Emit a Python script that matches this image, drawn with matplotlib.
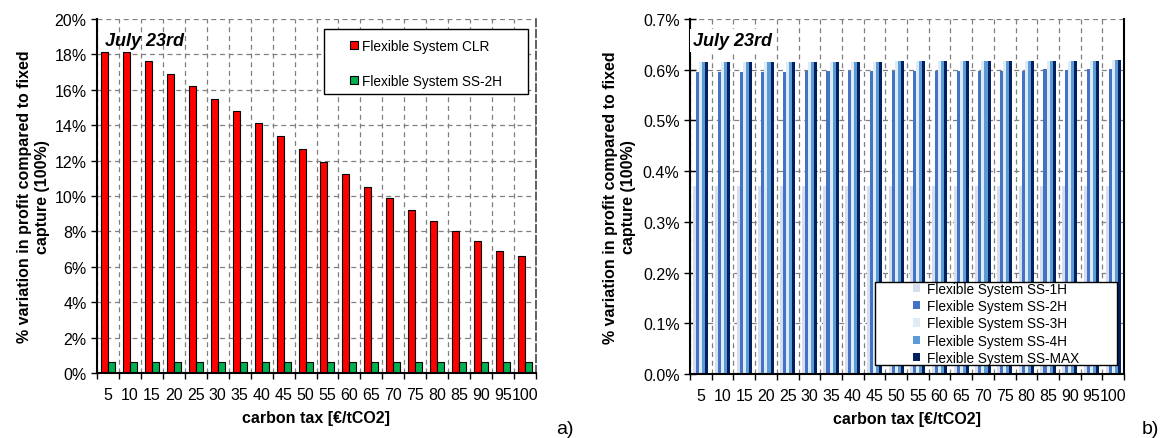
import numpy as np
import matplotlib
matplotlib.use("Agg")
import matplotlib.pyplot as plt
from matplotlib.patches import Rectangle
from matplotlib.ticker import FuncFormatter, FixedLocator

plt.rcParams['font.family'] = ['Liberation Sans', 'DejaVu Sans']

carbon_tax = [5, 10, 15, 20, 25, 30, 35, 40, 45, 50, 55, 60, 65, 70, 75, 80, 85, 90, 95, 100]

# panel a) values in %
clr = [18.15, 18.15, 17.6, 16.9, 16.2, 15.5, 14.8, 14.1, 13.4, 12.67,
       11.94, 11.26, 10.5, 9.87, 9.23, 8.59, 8.02, 7.43, 6.91, 6.59]

# panel b) values in %
ss_1h = [0.371, 0.371, 0.371, 0.371, 0.371, 0.371, 0.371, 0.371, 0.371, 0.371,
         0.371, 0.371, 0.371, 0.371, 0.371, 0.371, 0.371, 0.371, 0.371, 0.371]
ss_2h = [0.595, 0.595, 0.595, 0.595, 0.595, 0.598, 0.598, 0.598, 0.598, 0.598,
         0.598, 0.598, 0.598, 0.598, 0.598, 0.598, 0.601, 0.599, 0.601, 0.601]
ss_3h = [0.616, 0.616, 0.616, 0.616, 0.616, 0.616, 0.616, 0.616, 0.616, 0.618,
         0.618, 0.618, 0.618, 0.618, 0.618, 0.618, 0.618, 0.618, 0.618, 0.620]
ss_4h = [0.616, 0.616, 0.616, 0.616, 0.616, 0.616, 0.616, 0.616, 0.616, 0.618,
         0.618, 0.618, 0.618, 0.618, 0.618, 0.618, 0.618, 0.618, 0.618, 0.620]
ss_max = [0.616, 0.616, 0.616, 0.616, 0.616, 0.616, 0.616, 0.616, 0.616, 0.618,
          0.618, 0.618, 0.618, 0.618, 0.618, 0.618, 0.618, 0.618, 0.618, 0.620]

ylabel = "% variation in profit compared to fixed\ncapture (100%)"
xlabel = "carbon tax [\u20ac/tCO2]"

fig = plt.figure(figsize=(11.65, 4.39), dpi=100)
axa = fig.add_axes([97/1165, 1-374/439, 439/1165, 354/439])
axb = fig.add_axes([690/1165, 1-375/439, 434/1165, 355/439])

x = np.arange(len(carbon_tax))
GRID = dict(color='#808080', linestyle=(0, (4, 3)), linewidth=0.9)

def style(ax, right_color, right_ls):
    ax.set_xlim(-0.5, len(carbon_tax) - 0.5)
    ax.set_xticks(x)
    ax.set_xticklabels([str(c) for c in carbon_tax], fontsize=11.5)
    ax.xaxis.set_minor_locator(FixedLocator(np.arange(-0.5, len(carbon_tax), 1.0)))
    ax.tick_params(axis='x', which='major', length=0, pad=10)
    ax.tick_params(axis='x', which='minor', length=4, width=1, direction='out')
    ax.tick_params(axis='y', labelsize=11.5)
    ax.set_axisbelow(True)
    ax.grid(True, axis='y', which='major', **GRID)
    ax.grid(True, axis='x', which='minor', **GRID)
    ax.spines['top'].set_visible(False)
    ax.spines['left'].set_linewidth(1.5)
    ax.spines['bottom'].set_linewidth(1.5)
    ax.spines['right'].set_color(right_color)
    ax.spines['right'].set_linestyle(right_ls)
    ax.spines['right'].set_linewidth(1.3)
    ax.set_xlabel(xlabel, fontsize=11.5, fontweight='bold', labelpad=6)
    ax.set_ylabel(ylabel, fontsize=11.5, fontweight='bold', linespacing=1.25)

# ---- panel a
w = 0.32
axa.bar(x - w/2, clr, w, color='#FF0000', edgecolor='black', linewidth=0.8,
        label='Flexible System CLR')
axa.bar(x + w/2, ss_2h, w, color='#00B050', edgecolor='black', linewidth=0.8,
        label='Flexible System SS-2H')
axa.set_ylim(0, 20)
axa.set_yticks(np.arange(0, 21, 2))
axa.yaxis.set_major_formatter(FuncFormatter(lambda v, p: f"{v:.0f}%"))
axa.tick_params(axis='y', length=4, width=1, direction='out')
style(axa, '#555555', (0, (4, 2)))
axa.yaxis.set_label_coords(-0.107, 0.5)
axa.text(0.018, 0.939, "July 23rd", transform=axa.transAxes, fontsize=13,
         fontweight='bold', fontstyle='italic', va='center', ha='left')
axa.add_patch(Rectangle((0.517, 0.788), 0.465, 0.184, transform=axa.transAxes,
                        facecolor='white', edgecolor='black', linewidth=1.0, zorder=5))
axa.legend(loc='center', bbox_to_anchor=(0.749, 0.874), frameon=False,
           fontsize=9.8, handlelength=0.55, handleheight=0.55, handletextpad=0.3,
           labelspacing=1.55).set_zorder(6)

# ---- panel b
wb = 0.14
series_b = [ss_1h, ss_2h, ss_3h, ss_4h, ss_max]
names_b = ['Flexible System SS-1H', 'Flexible System SS-2H', 'Flexible System SS-3H',
           'Flexible System SS-4H', 'Flexible System SS-MAX']
colors_b = ['#D6DFF0', '#4472C4', '#DDEBF7', '#5B9BD5', '#002060']
for i, (vals, nm, col) in enumerate(zip(series_b, names_b, colors_b)):
    axb.bar(x + (i - 2) * wb, vals, wb, color=col, linewidth=0, label=nm)
axb.set_ylim(0, 0.7)
axb.set_yticks(np.arange(0, 0.71, 0.1))
axb.yaxis.set_major_formatter(FuncFormatter(lambda v, p: f"{v:.1f}%"))
axb.tick_params(axis='y', length=8, width=1, direction='inout')
style(axb, 'black', '-')
axb.spines['right'].set_linewidth(1.5)
axb.yaxis.set_label_coords(-0.124, 0.5)
axb.text(0.007, 0.939, "July 23rd", transform=axb.transAxes, fontsize=13,
         fontweight='bold', fontstyle='italic', va='center', ha='left',
         bbox=dict(facecolor='white', edgecolor='none', pad=2))
axb.add_patch(Rectangle((0.426, 0.025), 0.558, 0.234, transform=axb.transAxes,
                        facecolor='white', edgecolor='black', linewidth=1.0, zorder=5))
axb.legend(loc='center', bbox_to_anchor=(0.705, 0.143), frameon=False,
           fontsize=9.8, handlelength=0.55, handleheight=0.55, handletextpad=0.5,
           labelspacing=0.24).set_zorder(6)

fig.text(565/1165, 1-430/439, "a)", fontsize=14, ha='center', va='center')
fig.text(1150/1165, 1-430/439, "b)", fontsize=14, ha='center', va='center')

fig.savefig("out.png", dpi=100)
